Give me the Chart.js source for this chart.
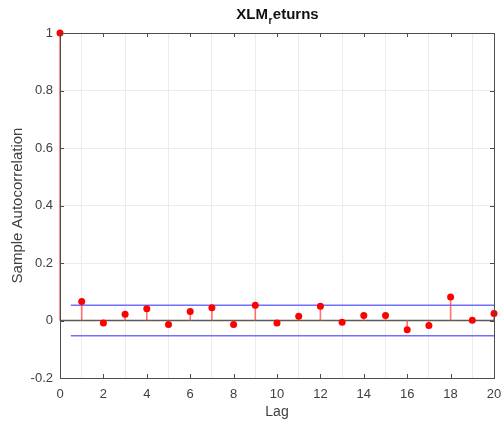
<!DOCTYPE html>
<html>
<head>
<meta charset="utf-8">
<script src="https://cdn.jsdelivr.net/npm/chart.js@4"></script>
<style>
  body { margin: 0; background: #fff; }
  #wrap { width: 503px; height: 430px; position: relative; }
</style>
</head>
<body>
<div id="wrap"><canvas id="myChart"></canvas></div>
<script>
const ctx = document.getElementById("myChart");
Chart.defaults.font.family = "'Liberation Sans', Arial, sans-serif";
Chart.defaults.font.size = 13;
Chart.defaults.color = "#404040";

// data
const lags = [0, 1, 2, 3, 4, 5, 6, 7, 8, 9, 10, 11, 12, 13, 14, 15, 16, 17, 18, 19, 20];
const acf = [1, 0.066, -0.009, 0.022, 0.041, -0.014, 0.031, 0.044, -0.014, 0.053, -0.009,
             0.015, 0.050, -0.006, 0.017, 0.017, -0.032, -0.017, 0.082, 0.001, 0.024];
const boundLags = [0.5, 20];
const upperBound = [0.053, 0.053];
const lowerBound = [-0.053, -0.053];
const zeroLags = [0, 20];
const zeroLine = [0, 0];
const titleParts = ["XLM", "r", "eturns"];

// title with the subscript r, plus box and inward ticks like matlab
const matlabStyle = {
  id: "matlabStyle",
  afterDraw(chart) {
    const c = chart.ctx;
    const a = chart.chartArea;
    const xs = chart.scales.x, ys = chart.scales.y;
    c.save();
    c.strokeStyle = "#4d4d4d";
    c.lineWidth = 1;
    c.strokeRect(Math.round(a.left) + 0.5, Math.round(a.top) + 0.5,
                 Math.round(a.right - a.left), Math.round(a.bottom - a.top));
    c.beginPath();
    xs.ticks.forEach(t => {
      const px = Math.round(xs.getPixelForValue(t.value)) + 0.5;
      c.moveTo(px, a.bottom); c.lineTo(px, a.bottom - 4);
      c.moveTo(px, a.top); c.lineTo(px, a.top + 4);
    });
    ys.ticks.forEach(t => {
      const py = Math.round(ys.getPixelForValue(t.value)) + 0.5;
      c.moveTo(a.left, py); c.lineTo(a.left + 4, py);
      c.moveTo(a.right, py); c.lineTo(a.right - 4, py);
    });
    c.stroke();

    // title
    const big = "bold 15px 'Liberation Sans', Arial, sans-serif";
    const small = "bold 10px 'Liberation Sans', Arial, sans-serif";
    c.font = big;
    const w1 = c.measureText(titleParts[0]).width;
    const w3 = c.measureText(titleParts[2]).width;
    c.font = small;
    const w2 = c.measureText(titleParts[1]).width;
    let x = (a.left + a.right) / 2 - (w1 + w2 + w3) / 2;
    const y = 15;
    c.fillStyle = "#111";
    c.textBaseline = "middle";
    c.textAlign = "left";
    c.font = big;
    c.fillText(titleParts[0], x, y);
    x += w1 + 0.5;
    c.font = small;
    c.fillText(titleParts[1], x, y + 6);
    x += w2 + 0.5;
    c.font = big;
    c.fillText(titleParts[2], x, y);
    c.restore();
  }
};

new Chart(ctx, {
  type: "scatter",
  data: {
    datasets: [
      {
        label: "acf",
        data: lags.map((l, i) => ({ x: l, y: acf[i] })),
        backgroundColor: "#ff0000",
        borderColor: "#ff0000",
        pointRadius: 3.5,
        pointHoverRadius: 3.5,
        borderWidth: 0,
        clip: false,
      },
      {
        type: "bar",
        label: "stems",
        data: lags.map((l, i) => ({ x: l, y: [0, acf[i]] })),
        backgroundColor: "rgba(255,60,60,0.7)",
        barThickness: 1,
        borderWidth: 0,
        clip: false,
      },
      {
        type: "line",
        label: "upper",
        data: boundLags.map((l, i) => ({ x: l, y: upperBound[i] })),
        borderColor: "#7070ff",
        borderWidth: 1.5,
        pointRadius: 0,
      },
      {
        type: "line",
        label: "lower",
        data: boundLags.map((l, i) => ({ x: l, y: lowerBound[i] })),
        borderColor: "#7070ff",
        borderWidth: 1.5,
        pointRadius: 0,
      },
      {
        type: "line",
        label: "zero",
        data: zeroLags.map((l, i) => ({ x: l, y: zeroLine[i] })),
        borderColor: "#5a5a5a",
        borderWidth: 1.5,
        pointRadius: 0,
      },
    ],
  },
  options: {
    responsive: true,
    maintainAspectRatio: false,
    animation: false,
    layout: { padding: { top: 33, right: 9, left: 0, bottom: 0 } },
    plugins: { legend: { display: false }, tooltip: { enabled: false } },
    scales: {
      x: {
        type: "linear",
        min: 0,
        max: 20,
        offset: false,
        afterFit(scale) { scale.height = 52; scale.paddingLeft = 0; scale.paddingRight = 0; },
        ticks: { stepSize: 2, padding: 9, maxRotation: 0 },
        grid: { color: "#ececec", drawTicks: false },
        border: { display: false },
        title: { display: true, text: "Lag", font: { size: 14 }, padding: { top: 0, bottom: 9 } },
      },
      y: {
        type: "linear",
        min: -0.2,
        max: 1,
        afterFit(scale) { scale.width = 60; scale.paddingTop = 0; scale.paddingBottom = 0; },
        ticks: {
          stepSize: 0.2,
          padding: 7,
          callback: (v) => String(Math.round(v * 10) / 10),
        },
        grid: { color: "#ececec", drawTicks: false },
        border: { display: false },
        title: { display: true, text: "Sample Autocorrelation", font: { size: 15 }, padding: { top: 9, bottom: 0 } },
      },
    },
  },
  plugins: [matlabStyle],
});
</script>
</body>
</html>
